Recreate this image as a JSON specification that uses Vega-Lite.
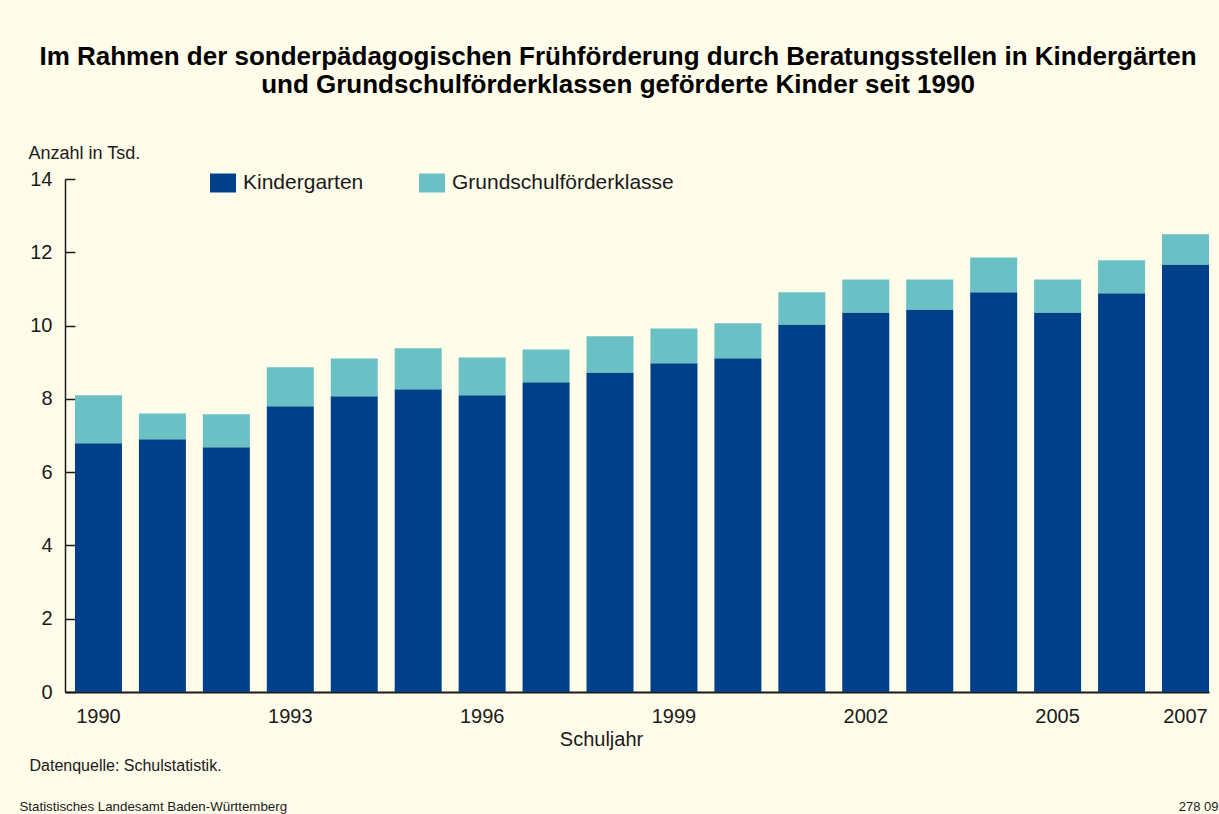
{
  "$schema": "https://vega.github.io/schema/vega-lite/v6.json",
  "width": 1144,
  "height": 513,
  "autosize": {"type": "none"},
  "padding": {"left": 65, "top": 179, "right": 10, "bottom": 122},
  "background": "#FFFCEA",
  "title": {
    "text": ["Im Rahmen der sonderpädagogischen Frühförderung durch Beratungsstellen in Kindergärten", "und Grundschulförderklassen geförderte Kinder seit 1990"],
    "font": "Liberation Sans",
    "fontSize": 26,
    "fontWeight": "bold",
    "lineHeight": 28,
    "color": "#000000",
    "anchor": "middle",
    "frame": "group",
    "dx": -19,
    "dy": -46,
    "offset": 0
  },
  "data": {
    "values": [
      {"Jahr": "1990", "Art": "Kindergarten", "Anzahl": 6.79},
      {"Jahr": "1990", "Art": "Grundschulförderklasse", "Anzahl": 1.31},
      {"Jahr": "1991", "Art": "Kindergarten", "Anzahl": 6.90},
      {"Jahr": "1991", "Art": "Grundschulförderklasse", "Anzahl": 0.70},
      {"Jahr": "1992", "Art": "Kindergarten", "Anzahl": 6.68},
      {"Jahr": "1992", "Art": "Grundschulförderklasse", "Anzahl": 0.90},
      {"Jahr": "1993", "Art": "Kindergarten", "Anzahl": 7.80},
      {"Jahr": "1993", "Art": "Grundschulförderklasse", "Anzahl": 1.06},
      {"Jahr": "1994", "Art": "Kindergarten", "Anzahl": 8.07},
      {"Jahr": "1994", "Art": "Grundschulförderklasse", "Anzahl": 1.03},
      {"Jahr": "1995", "Art": "Kindergarten", "Anzahl": 8.26},
      {"Jahr": "1995", "Art": "Grundschulförderklasse", "Anzahl": 1.12},
      {"Jahr": "1996", "Art": "Kindergarten", "Anzahl": 8.10},
      {"Jahr": "1996", "Art": "Grundschulförderklasse", "Anzahl": 1.03},
      {"Jahr": "1997", "Art": "Kindergarten", "Anzahl": 8.45},
      {"Jahr": "1997", "Art": "Grundschulförderklasse", "Anzahl": 0.90},
      {"Jahr": "1998", "Art": "Kindergarten", "Anzahl": 8.72},
      {"Jahr": "1998", "Art": "Grundschulförderklasse", "Anzahl": 0.99},
      {"Jahr": "1999", "Art": "Kindergarten", "Anzahl": 8.97},
      {"Jahr": "1999", "Art": "Grundschulförderklasse", "Anzahl": 0.95},
      {"Jahr": "2000", "Art": "Kindergarten", "Anzahl": 9.11},
      {"Jahr": "2000", "Art": "Grundschulförderklasse", "Anzahl": 0.95},
      {"Jahr": "2001", "Art": "Kindergarten", "Anzahl": 10.03},
      {"Jahr": "2001", "Art": "Grundschulförderklasse", "Anzahl": 0.88},
      {"Jahr": "2002", "Art": "Kindergarten", "Anzahl": 10.36},
      {"Jahr": "2002", "Art": "Grundschulförderklasse", "Anzahl": 0.90},
      {"Jahr": "2003", "Art": "Kindergarten", "Anzahl": 10.44},
      {"Jahr": "2003", "Art": "Grundschulförderklasse", "Anzahl": 0.82},
      {"Jahr": "2004", "Art": "Kindergarten", "Anzahl": 10.91},
      {"Jahr": "2004", "Art": "Grundschulförderklasse", "Anzahl": 0.95},
      {"Jahr": "2005", "Art": "Kindergarten", "Anzahl": 10.36},
      {"Jahr": "2005", "Art": "Grundschulförderklasse", "Anzahl": 0.90},
      {"Jahr": "2006", "Art": "Kindergarten", "Anzahl": 10.88},
      {"Jahr": "2006", "Art": "Grundschulförderklasse", "Anzahl": 0.90},
      {"Jahr": "2007", "Art": "Kindergarten", "Anzahl": 11.67},
      {"Jahr": "2007", "Art": "Grundschulförderklasse", "Anzahl": 0.82}
    ]
  },
  "layer": [
    {
      "mark": {"type": "bar", "strokeWidth": 0},
      "encoding": {
        "x": {
          "field": "Jahr",
          "type": "ordinal",
          "scale": {"paddingInner": 0.265, "paddingOuter": 0.078, "align": 1},
          "axis": {
            "values": ["1990", "1993", "1996", "1999", "2002", "2005", "2007"],
            "ticks": false,
            "labelPadding": 14,
            "labelAngle": 0,
            "labelFontSize": 20,
            "labelColor": "#1a1a1a",
            "domainColor": "#1a1a1a",
            "domainWidth": 2,
            "grid": false,
            "title": "Schuljahr",
            "titleX": 536,
            "titleY": 53,
            "titleAlign": "center",
            "titleBaseline": "alphabetic",
            "titleFontSize": 20,
            "titleFontWeight": "normal",
            "titleColor": "#1a1a1a"
          }
        },
        "y": {
          "field": "Anzahl",
          "type": "quantitative",
          "stack": "zero",
          "scale": {"domain": [0, 14], "nice": false},
          "axis": {
            "values": [0, 2, 4, 6, 8, 10, 12, 14],
            "tickSize": -10,
            "tickWidth": 1.5,
            "tickColor": "#1a1a1a",
            "domainColor": "#1a1a1a",
            "domainWidth": 1.5,
            "labelPadding": 23,
            "labelFontSize": 20,
            "labelColor": "#1a1a1a",
            "grid": false,
            "title": "Anzahl in Tsd.",
            "titleAngle": 0,
            "titleAlign": "left",
            "titleBaseline": "alphabetic",
            "titleX": -37,
            "titleY": -21,
            "titleFontSize": 18,
            "titleFontWeight": "normal",
            "titleColor": "#1a1a1a"
          }
        },
        "color": {
          "field": "Art",
          "type": "nominal",
          "scale": {"domain": ["Kindergarten", "Grundschulförderklasse"], "range": ["#00408A", "#69C1C5"]},
          "legend": {
            "orient": "none",
            "legendX": 145,
            "legendY": -9,
            "direction": "horizontal",
            "title": null,
            "padding": 0,
            "symbolType": "M-1,-0.73H1V0.73H-1Z",
            "symbolSize": 676,
            "symbolStrokeWidth": 0,
            "symbolOpacity": 1,
            "labelFontSize": 21,
            "labelOffset": 7,
            "labelLimit": 500,
            "labelColor": "#1a1a1a",
            "columnPadding": 55
          }
        },
        "order": {"field": "Art", "sort": "descending"}
      }
    },
    {
      "mark": {"type": "point", "opacity": 0},
      "encoding": {
        "x": {
          "field": "Jahr",
          "type": "ordinal",
          "axis": {
            "orient": "top",
            "domain": false,
            "ticks": false,
            "labels": false,
            "grid": false,
            "title": "Datenquelle: Schulstatistik.",
            "titleX": -36,
            "titleY": 591,
            "titleAngle": 0,
            "titleAlign": "left",
            "titleBaseline": "alphabetic",
            "titleFontSize": 16,
            "titleFontWeight": "normal",
            "titleColor": "#1a1a1a"
          }
        },
        "y": {
          "field": "Anzahl",
          "type": "quantitative",
          "axis": {
            "orient": "right",
            "domain": false,
            "ticks": false,
            "labels": false,
            "grid": false,
            "title": "278 09",
            "titleX": 9,
            "titleY": 631,
            "titleAngle": 0,
            "titleAlign": "right",
            "titleBaseline": "alphabetic",
            "titleFontSize": 13,
            "titleFontWeight": "normal",
            "titleColor": "#1a1a1a"
          }
        }
      }
    },
    {
      "mark": {"type": "point", "opacity": 0},
      "encoding": {
        "x": {
          "field": "Jahr",
          "type": "ordinal",
          "axis": {
            "orient": "bottom",
            "domain": false,
            "ticks": false,
            "labels": false,
            "grid": false,
            "title": "Statistisches Landesamt Baden-Württemberg",
            "titleX": -46,
            "titleY": 118,
            "titleAngle": 0,
            "titleAlign": "left",
            "titleBaseline": "alphabetic",
            "titleFontSize": 13.3,
            "titleFontWeight": "normal",
            "titleColor": "#1a1a1a"
          }
        }
      }
    }
  ],
  "resolve": {
    "scale": {"x": "independent", "y": "independent"},
    "axis": {"x": "independent", "y": "independent"}
  },
  "config": {
    "font": "Liberation Sans",
    "view": {"stroke": null},
    "axis": {"labelFont": "Liberation Sans", "titleFont": "Liberation Sans"},
    "legend": {"labelFont": "Liberation Sans"}
  }
}
